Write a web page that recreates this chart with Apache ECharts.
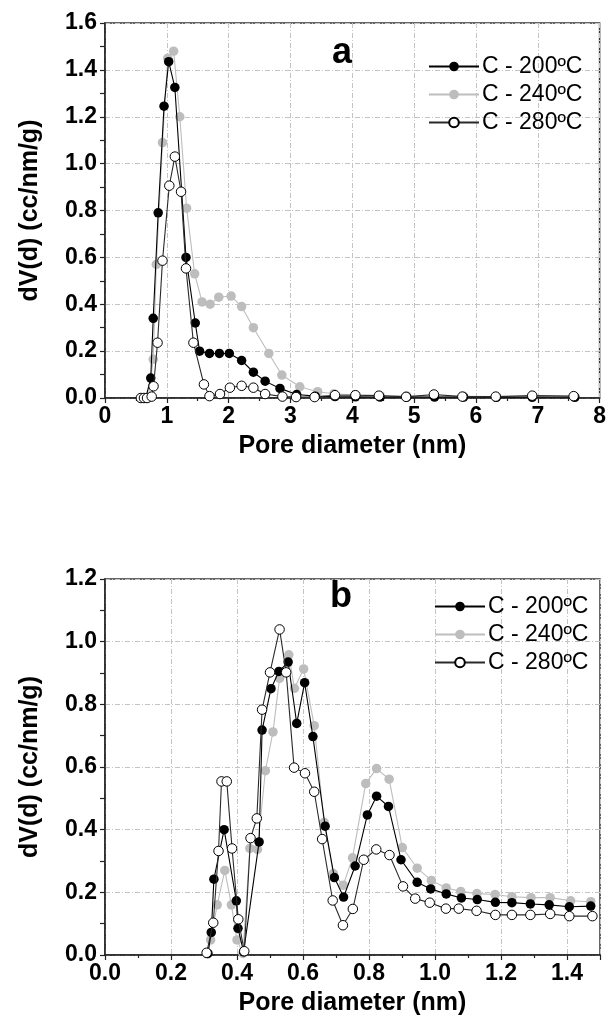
<!DOCTYPE html>
<html>
<head>
<meta charset="utf-8">
<script src="https://cdn.jsdelivr.net/npm/echarts@6/dist/echarts.min.js"></script>
<style>
html,body{margin:0;padding:0;background:#fff;}
#chart{width:609px;height:1036px;}
</style>
</head>
<body>
<div id="chart"></div>
<script>
// ---------- data: panel a ----------
const seriesNames = ['C - 200ºC', 'C - 240ºC', 'C - 280ºC'];
const aX200 = [0.60,0.66,0.74,0.78,0.86,0.955,1.03,1.13,1.31,1.46,1.53,1.69,1.85,2.01,2.21,2.40,2.59,2.83,3.10,3.40,3.72,4.05,4.45,4.88,5.33,5.80,6.33,6.91,7.60];
const aY200 = [0.0,0.0,0.085,0.34,0.79,1.245,1.435,1.325,0.60,0.32,0.20,0.19,0.19,0.19,0.16,0.11,0.072,0.041,0.015,0.008,0.006,0.005,0.004,0.004,0.004,0.004,0.003,0.003,0.003];
const aX240 = [0.62,0.70,0.78,0.83,0.93,1.015,1.11,1.21,1.32,1.45,1.57,1.70,1.84,2.04,2.21,2.40,2.65,2.86,3.15,3.44,3.70,4.05,4.45,4.88,5.33,5.80,6.33,6.91,7.60];
const aY240 = [0.0,0.0,0.165,0.57,1.09,1.45,1.48,1.20,0.81,0.53,0.41,0.40,0.43,0.435,0.39,0.30,0.19,0.098,0.048,0.027,0.018,0.013,0.010,0.009,0.008,0.007,0.006,0.006,0.005];
const aX280 = [0.58,0.63,0.68,0.755,0.785,0.85,0.93,1.04,1.13,1.23,1.31,1.43,1.60,1.69,1.86,2.02,2.21,2.40,2.59,2.87,3.09,3.39,3.72,4.05,4.43,4.87,5.32,5.78,6.32,6.91,7.58];
const aY280 = [0.0,0.0,0.0,0.006,0.05,0.236,0.586,0.906,1.03,0.88,0.553,0.236,0.058,0.008,0.017,0.044,0.052,0.044,0.017,0.006,0.004,0.004,0.012,0.012,0.010,0.005,0.015,0.006,0.006,0.010,0.008];

// ---------- data: panel b ----------
const bX200 = [0.312,0.322,0.330,0.361,0.398,0.403,0.420,0.467,0.476,0.503,0.527,0.555,0.581,0.605,0.630,0.667,0.695,0.723,0.758,0.795,0.823,0.859,0.897,0.946,0.987,1.034,1.080,1.128,1.183,1.233,1.289,1.346,1.407,1.472];
const bY200 = [0.005,0.072,0.242,0.40,0.173,0.085,0.01,0.361,0.718,0.85,0.905,0.935,0.739,0.869,0.697,0.411,0.247,0.185,0.284,0.447,0.507,0.474,0.304,0.232,0.211,0.195,0.182,0.177,0.168,0.167,0.163,0.160,0.154,0.156];
const bX240 = [0.310,0.320,0.340,0.363,0.383,0.400,0.418,0.439,0.462,0.486,0.509,0.529,0.557,0.574,0.602,0.634,0.664,0.692,0.722,0.750,0.790,0.823,0.861,0.901,0.946,0.989,1.034,1.078,1.127,1.182,1.233,1.291,1.349,1.411,1.472];
const bY240 = [0.003,0.048,0.16,0.27,0.16,0.048,0.005,0.34,0.337,0.588,0.712,0.883,0.958,0.851,0.913,0.732,0.423,0.26,0.223,0.31,0.547,0.595,0.561,0.343,0.277,0.238,0.214,0.203,0.196,0.193,0.186,0.183,0.183,0.173,0.17];
const bX280 = [0.308,0.328,0.344,0.353,0.369,0.385,0.404,0.422,0.441,0.460,0.476,0.500,0.529,0.549,0.573,0.606,0.634,0.658,0.690,0.721,0.751,0.784,0.822,0.862,0.903,0.940,0.984,1.033,1.072,1.126,1.183,1.233,1.289,1.349,1.407,1.477];
const bY280 = [0.007,0.103,0.332,0.554,0.554,0.34,0.114,0.012,0.373,0.436,0.783,0.902,1.039,0.902,0.598,0.58,0.521,0.37,0.174,0.095,0.147,0.304,0.337,0.319,0.219,0.18,0.167,0.148,0.148,0.141,0.128,0.128,0.128,0.131,0.124,0.124];

// tick label settings
const aXTicks = {min:0, max:8, interval:1};
const aYTicks = {min:0, max:1.6, interval:0.2};
const bXTicks = {min:0, max:1.5, interval:0.2};
const bYTicks = {min:0, max:1.2, interval:0.2};

const zip = (xs, ys) => xs.map((x, i) => [x, ys[i]]);

const FONT = '"Liberation Sans", Arial, Helvetica, sans-serif';
const gridLine = {show:true, lineStyle:{color:'#c4c4c4', width:1, type:[5,2,1,2]}};

function xAxisCfg(idx, t, fmt) {
  return {
    type:'value', gridIndex:idx, min:t.min, max:t.max, interval:t.interval,
    name:'Pore diameter (nm)', nameLocation:'middle', nameGap:36,
    nameTextStyle:{fontFamily:FONT, fontWeight:'bold', fontSize:25, color:'#000'},
    axisLine:{show:true, onZero:false, lineStyle:{color:'#222', width:1.5}},
    axisTick:{show:true, inside:false, length:5, lineStyle:{color:'#222', width:1.2}},
    minorTick:{show:true, splitNumber:2, length:3, lineStyle:{color:'#222', width:1.2}},
    axisLabel:{fontFamily:FONT, fontWeight:'bold', fontSize:23, color:'#000', margin:7, formatter:fmt, showMaxLabel: idx===0},
    splitLine:gridLine
  };
}
function yAxisCfg(idx, t) {
  return {
    type:'value', gridIndex:idx, min:t.min, max:t.max, interval:t.interval,
    name:'dV(d) (cc/nm/g)', nameLocation:'middle', nameGap:62, nameRotate:90,
    nameTextStyle:{fontFamily:FONT, fontWeight:'bold', fontSize:25, color:'#000'},
    axisLine:{show:true, onZero:false, lineStyle:{color:'#222', width:1.5}},
    axisTick:{show:true, inside:false, length:5, lineStyle:{color:'#222', width:1.2}},
    minorTick:{show:true, splitNumber:2, length:5, lineStyle:{color:'#222', width:1.2}},
    axisLabel:{fontFamily:FONT, fontWeight:'bold', fontSize:23, color:'#000', margin:8, formatter:v => v.toFixed(1)},
    splitLine:gridLine
  };
}

const styles = [
  {line:'#000', fill:'#000', border:'#000', z:3},
  {line:'#bdbdbd', fill:'#bdbdbd', border:'#bdbdbd', z:2},
  {line:'#2a2a2a', fill:'#fff', border:'#000', z:4}
];
function mk(name, data, xi, st) {
  return {
    name, type:'line', xAxisIndex:xi, yAxisIndex:xi, data,
    symbol:'circle', symbolSize:9.5, showSymbol:true, animation:false,
    z:st.z,
    lineStyle:{color:st.line, width:1.1},
    itemStyle:{color:st.fill, borderColor:st.border, borderWidth: st.fill==='#fff'?1:0},
    emphasis:{disabled:true}
  };
}

function legendCfg(left, top) {
  return {
    orient:'vertical', left, top, itemWidth:50, itemHeight:12, itemGap:5,
    data:seriesNames, selectedMode:false,
    textStyle:{fontFamily:FONT, fontSize:23, color:'#000', lineHeight:23, padding:[0,0,0,-2]}
  };
}

const chart = echarts.init(document.getElementById('chart'), null, {renderer:'canvas'});
chart.setOption({
  backgroundColor:'#fff',
  animation:false,
  grid:[
    {left:105, top:23, width:495, height:375, show:true, borderColor:'#333', borderWidth:1.5, backgroundColor:'transparent'},
    {left:105, top:579, width:495, height:376, show:true, borderColor:'#333', borderWidth:1.5, backgroundColor:'transparent'}
  ],
  xAxis:[ xAxisCfg(0, aXTicks, v => String(v)), xAxisCfg(1, bXTicks, v => v.toFixed(1)) ],
  yAxis:[ yAxisCfg(0, aYTicks), yAxisCfg(1, bYTicks) ],
  legend:[ legendCfg(423, 50), legendCfg(429, 590) ],
  graphic:[
    {type:'text', x:342, y:53, style:{text:'a', font:'bold 36px ' + FONT, fill:'#000', align:'center', verticalAlign:'middle'}},
    {type:'text', x:341, y:597, style:{text:'b', font:'bold 36px ' + FONT, fill:'#000', align:'center', verticalAlign:'middle'}}
  ],
  series:[
    mk(seriesNames[1], zip(aX240, aY240), 0, styles[1]),
    mk(seriesNames[0], zip(aX200, aY200), 0, styles[0]),
    mk(seriesNames[2], zip(aX280, aY280), 0, styles[2]),
    mk(seriesNames[1], zip(bX240, bY240), 1, styles[1]),
    mk(seriesNames[0], zip(bX200, bY200), 1, styles[0]),
    mk(seriesNames[2], zip(bX280, bY280), 1, styles[2])
  ]
});
</script>
</body>
</html>
